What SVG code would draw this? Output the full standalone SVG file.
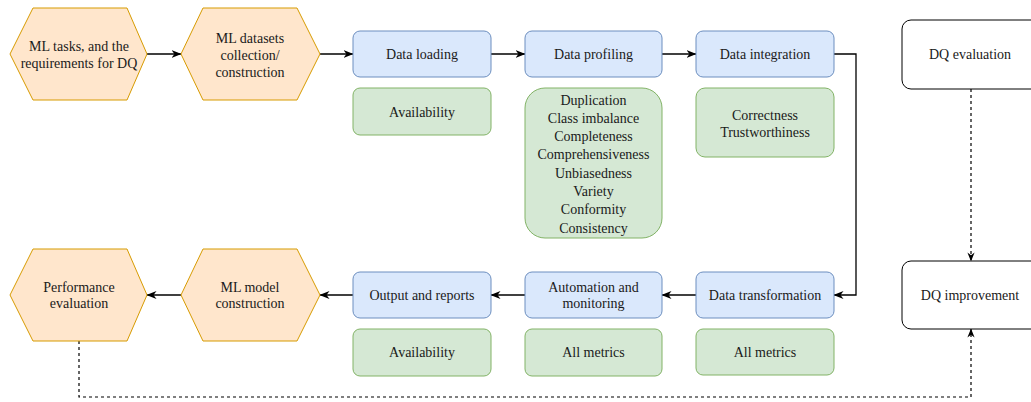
<svg xmlns="http://www.w3.org/2000/svg" width="1031" height="402" viewBox="0 0 1031 402">
<defs>
<style>
text{font-family:'Liberation Serif','Times New Roman','DejaVu Serif',serif;font-size:14px;fill:#1a1a1a;text-anchor:middle;dominant-baseline:central}
.hex{fill:#ffe6cc;stroke:#d79b00;stroke-width:1}
.blue{fill:#dae8fc;stroke:#6c8ebf;stroke-width:1}
.green{fill:#d5e8d4;stroke:#82b366;stroke-width:1}
.plain{fill:#fff;stroke:#000;stroke-width:1}
.ln{fill:none;stroke:#000;stroke-width:1.3}
.dash{fill:none;stroke:#000;stroke-width:1.2;stroke-dasharray:3 3}
</style>
<marker id="arr" viewBox="0 0 10 8" refX="9.5" refY="4" markerWidth="10" markerHeight="8" markerUnits="userSpaceOnUse" orient="auto">
<path d="M0,0 L10,4 L0,8 L3,4 Z" fill="#000"/>
</marker>
<marker id="arrd" viewBox="0 0 10 8" refX="9.5" refY="4" markerWidth="9" markerHeight="8" markerUnits="userSpaceOnUse" orient="auto">
<path d="M0,0 L10,4 L0,8 L3,4 Z" fill="#000"/>
</marker>
</defs>
<rect width="1031" height="402" fill="#fff"/>
<g id="connectors">
<path class="ln" d="M147,54 H181" marker-end="url(#arr)"/>
<path class="ln" d="M320,54 H353" marker-end="url(#arr)"/>
<path class="ln" d="M491,54 H525" marker-end="url(#arr)"/>
<path class="ln" d="M662,54 H696" marker-end="url(#arr)"/>
<path class="ln" d="M834,54 H856 V295 H834" marker-end="url(#arr)"/>
<path class="ln" d="M696,295 H662" marker-end="url(#arr)"/>
<path class="ln" d="M525,295 H491" marker-end="url(#arr)"/>
<path class="ln" d="M353,295 H320" marker-end="url(#arr)"/>
<path class="ln" d="M181,295 H147" marker-end="url(#arr)"/>
<path class="dash" d="M971,89 V261" marker-end="url(#arrd)"/>
<path class="dash" d="M79,341 V397 H971 V329" marker-end="url(#arrd)"/>
</g>
<g font-family="Liberation Serif, serif">
<g id="ml-tasks"><polygon class="hex" points="10,54 33,8 127,8 147,54 127,100 33,100"/><text x="79" y="46">ML tasks, and the</text><text x="79" y="63">requirements for DQ</text></g>
<g id="ml-datasets"><polygon class="hex" points="181,54 203,8 297,8 320,54 297,100 203,100"/><text x="250" y="38">ML datasets</text><text x="250" y="55">collection/</text><text x="250" y="72">construction</text></g>
<g id="data-loading"><rect class="blue" x="353" y="31" width="138" height="46" rx="7"/><text x="422" y="54">Data loading</text></g>
<g id="data-profiling"><rect class="blue" x="525" y="31" width="137" height="46" rx="7"/><text x="593.5" y="54">Data profiling</text></g>
<g id="data-integration"><rect class="blue" x="696" y="31" width="138" height="46" rx="7"/><text x="765" y="54">Data integration</text></g>
<g id="avail-1"><rect class="green" x="353" y="88" width="138" height="47" rx="7"/><text x="422" y="112">Availability</text></g>
<g id="profiling-metrics"><rect class="green" x="525" y="88" width="137" height="150" rx="20"/>
<text x="593.5" y="100">Duplication</text><text x="593.5" y="118.3">Class imbalance</text><text x="593.5" y="136.6">Completeness</text><text x="593.5" y="154.9">Comprehensiveness</text><text x="593.5" y="173.2">Unbiasedness</text><text x="593.5" y="191.5">Variety</text><text x="593.5" y="209.8">Conformity</text><text x="593.5" y="228">Consistency</text></g>
<g id="integration-metrics"><rect class="green" x="696" y="88" width="138" height="69" rx="9"/><text x="765" y="115">Correctness</text><text x="765" y="132">Trustworthiness</text></g>
<g id="dq-evaluation"><rect class="plain" x="902" y="20" width="138" height="69" rx="9"/><text x="970" y="54">DQ evaluation</text></g>
<g id="dq-improvement"><rect class="plain" x="902" y="261" width="138" height="68" rx="9"/><text x="970" y="295">DQ improvement</text></g>
<g id="perf-eval"><polygon class="hex" points="10,295 33,249 127,249 147,295 127,341 33,341"/><text x="79" y="287">Performance</text><text x="79" y="303">evaluation</text></g>
<g id="ml-model"><polygon class="hex" points="181,295 203,249 297,249 320,295 297,341 203,341"/><text x="250" y="287">ML model</text><text x="250" y="303">construction</text></g>
<g id="output-reports"><rect class="blue" x="353" y="272" width="138" height="46" rx="7"/><text x="422" y="295">Output and reports</text></g>
<g id="automation"><rect class="blue" x="525" y="272" width="137" height="46" rx="7"/><text x="593.5" y="287">Automation and</text><text x="593.5" y="303">monitoring</text></g>
<g id="data-transformation"><rect class="blue" x="696" y="272" width="138" height="46" rx="7"/><text x="765" y="295">Data transformation</text></g>
<g id="avail-2"><rect class="green" x="353" y="329" width="138" height="47" rx="7"/><text x="422" y="352">Availability</text></g>
<g id="all-metrics-1"><rect class="green" x="525" y="329" width="137" height="47" rx="7"/><text x="593.5" y="352">All metrics</text></g>
<g id="all-metrics-2"><rect class="green" x="696" y="329" width="138" height="46" rx="7"/><text x="765" y="352">All metrics</text></g>
</g>
</svg>
